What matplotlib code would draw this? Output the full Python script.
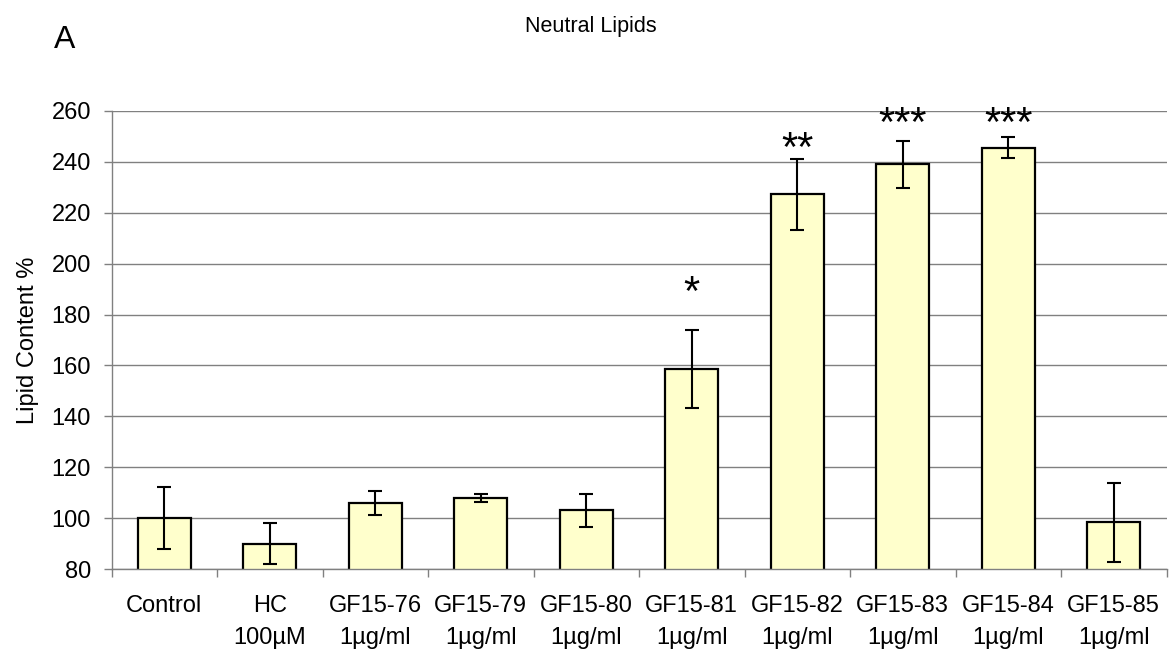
import matplotlib
matplotlib.use('Agg')
import matplotlib.pyplot as plt
import numpy as np

plt.rcParams['font.family'] = ['Liberation Sans', 'DejaVu Sans']

# data
groups = ['Control', 'HC', 'GF15-76', 'GF15-79', 'GF15-80',
          'GF15-81', 'GF15-82', 'GF15-83', 'GF15-84', 'GF15-85']
doses = ['', '100µM', '1µg/ml', '1µg/ml', '1µg/ml',
         '1µg/ml', '1µg/ml', '1µg/ml', '1µg/ml', '1µg/ml']
lipid = [100, 90, 106, 108, 103, 158.7, 227.2, 239, 245.5, 98.3]
sem = [12.2, 8.2, 4.8, 1.6, 6.5, 15.4, 14, 9.3, 4.1, 15.4]
stars = ['', '', '', '', '', '*', '**', '***', '***', '']
star_gap = [0, 0, 0, 0, 0, 17.5, 7, 9.6, 8.3, 0]

grey = '#808080'
W, H = 1169, 652


def main():
    fig = plt.figure(figsize=(W / 100, H / 100), dpi=100)
    ax = fig.add_axes([111.5 / W, 1 - 569 / H, 1055 / W, 458 / H])

    x = np.arange(len(groups))
    ax.bar(x, lipid, width=0.5, color='#FFFFCC', edgecolor='black',
           linewidth=1.6, zorder=2)
    ax.errorbar(x, lipid, yerr=sem, fmt='none', ecolor='black',
                elinewidth=1.5, capsize=5, capthick=1.5, zorder=3)

    # significance stars above the error bars
    fs = 30
    for xi, v, e, s, g in zip(x, lipid, sem, stars, star_gap):
        if s:
            ax.annotate(s, (xi, v + e + g), xytext=(0, -0.47 * fs),
                        textcoords='offset points', ha='center',
                        va='baseline', fontsize=fs, annotation_clip=False)

    ax.set_xlim(-0.5, len(groups) - 0.5)
    ax.set_ylim(80, 260)
    ax.set_yticks(np.arange(80, 261, 20))

    labels = [g if not d else g + '\n' + d for g, d in zip(groups, doses)]
    ax.set_xticks(x)
    ax.set_xticklabels(labels, linespacing=1.55)
    ax.set_xticks(np.arange(-0.5, len(groups), 1), minor=True)
    ax.tick_params(axis='x', which='major', length=0, pad=19, labelsize=17)
    ax.tick_params(axis='x', which='minor', length=5.8, width=1, color=grey)
    ax.tick_params(axis='y', length=5.8, width=1, color=grey, pad=9,
                   labelsize=17)

    for side in ['top', 'right']:
        ax.spines[side].set_visible(False)
    for side in ['left', 'bottom']:
        ax.spines[side].set_color(grey)
        ax.spines[side].set_linewidth(1)

    ax.yaxis.grid(True, color=grey, lw=1)
    ax.set_axisbelow(True)

    ax.set_ylabel('Lipid Content %', fontsize=17, labelpad=9)

    fig.text(590.5 / W, 1 - 31.7 / H, 'Neutral Lipids', ha='center',
             va='baseline', fontsize=15.5)
    fig.text(64.5 / W, 1 - 48 / H, 'A', ha='center', va='baseline',
             fontsize=23)

    fig.savefig('out.png', dpi=100)


if __name__ == '__main__':
    main()
